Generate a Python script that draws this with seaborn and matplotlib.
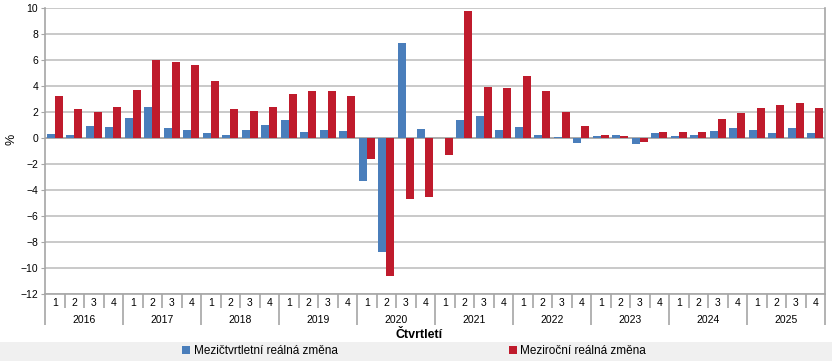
import pandas as pd
import matplotlib.pyplot as plt
import matplotlib.transforms as mtransforms
from matplotlib.patches import Rectangle, Patch
import seaborn as sns

# Quarterly real change (%), 2016 Q1 .. 2025 Q4
years = [str(y) for y in range(2016, 2026)]
quarters = ['1', '2', '3', '4']
qoq = [0.3, 0.25, 0.95, 0.85,
       1.55, 2.4, 0.8, 0.65,
       0.4, 0.25, 0.65, 1.0,
       1.4, 0.5, 0.65, 0.55,
       -3.3, -8.75, 7.3, 0.7,
       0.0, 1.4, 1.7, 0.65,
       0.85, 0.25, 0.1, -0.35,
       0.15, 0.25, -0.45, 0.4,
       0.15, 0.25, 0.55, 0.8,
       0.65, 0.4, 0.8, 0.4]
yoy = [3.2, 2.25, 2.0, 2.4,
       3.7, 6.0, 5.85, 5.65,
       4.4, 2.25, 2.05, 2.4,
       3.4, 3.6, 3.6, 3.25,
       -1.6, -10.6, -4.7, -4.5,
       -1.3, 9.75, 3.95, 3.85,
       4.8, 3.6, 2.0, 0.95,
       0.25, 0.15, -0.3, 0.45,
       0.45, 0.45, 1.5, 1.95,
       2.3, 2.55, 2.7, 2.3]
series_names = ['Mezičtvrtletní reálná změna', 'Meziroční reálná změna']
colors = ['#4a7ebb', '#bf1b2c']

n = len(qoq)
df = pd.DataFrame({
    'idx': list(range(n)) * 2,
    'value': qoq + yoy,
    'series': [series_names[0]] * n + [series_names[1]] * n,
})

plt.rcParams['font.family'] = ['Liberation Sans', 'DejaVu Sans']

fig = plt.figure(figsize=(8.32, 3.61), dpi=100)
# legend band
fig.patches.append(Rectangle((0, 0), 1, 19 / 361, transform=fig.transFigure,
                             facecolor='#f0f0f0', edgecolor='none', zorder=0))
ax = fig.add_axes([45 / 832, 1 - 294 / 361, 780 / 832, 286 / 361])

sns.barplot(data=df, x='idx', y='value', hue='series', palette=colors,
            width=0.82, gap=0, errorbar=None, ax=ax, legend=False, zorder=3,
            saturation=1)

ax.set_ylim(-12, 10)
ax.set_yticks(range(-12, 11, 2))
ax.set_xlim(-0.5, n - 0.5)
ax.yaxis.grid(True, color='#c0c0c0', lw=1.2, zorder=0)
ax.set_axisbelow(True)
ax.axhline(0, color='#a6a6a6', lw=1.2, zorder=2)

ax.spines['top'].set_visible(False)
for s in ['left', 'right', 'bottom']:
    ax.spines[s].set_color('#a6a6a6')
    ax.spines[s].set_linewidth(1.2)

ax.tick_params(axis='y', labelsize=7.5, length=3, color='#a6a6a6', pad=2)
ax.set_ylabel('%', fontsize=9)
ax.yaxis.set_label_coords(-28 / 780, 155 / 286)
ax.set_xlabel('')

# quarter separators (short) and year separators (long)
ax.set_xticks([i - 0.5 for i in range(n + 1) if i % 4 != 0])
ax.set_xticklabels([])
ax.set_xticks([i - 0.5 for i in range(0, n + 1, 4)], minor=True)
ax.tick_params(axis='x', which='major', length=10, width=1.2, color='#a6a6a6', direction='out')
ax.tick_params(axis='x', which='minor', length=22, width=1.2, color='#a6a6a6', direction='out')

trans = mtransforms.blended_transform_factory(ax.transData, ax.transAxes)
for i in range(n):
    ax.text(i, -9 / 286, quarters[i % 4], transform=trans, ha='center', va='center', fontsize=7.5)
for k, yr in enumerate(years):
    ax.text(4 * k + 1.5, -26 / 286, yr, transform=trans, ha='center', va='center', fontsize=7.5)

fig.text(419 / 832, 1 - 335 / 361, 'Čtvrtletí', ha='center', va='center',
         fontsize=9, fontweight='bold')

handles = [Patch(facecolor=c, edgecolor='none') for c in colors]
fig.legend(handles, series_names, loc='center', bbox_to_anchor=(414 / 832, 1 - 351 / 361),
           ncol=2, frameon=False, fontsize=8.5, handlelength=0.7, handleheight=0.7,
           handletextpad=0.3, columnspacing=14.5)

fig.savefig('out.png', dpi=100)
